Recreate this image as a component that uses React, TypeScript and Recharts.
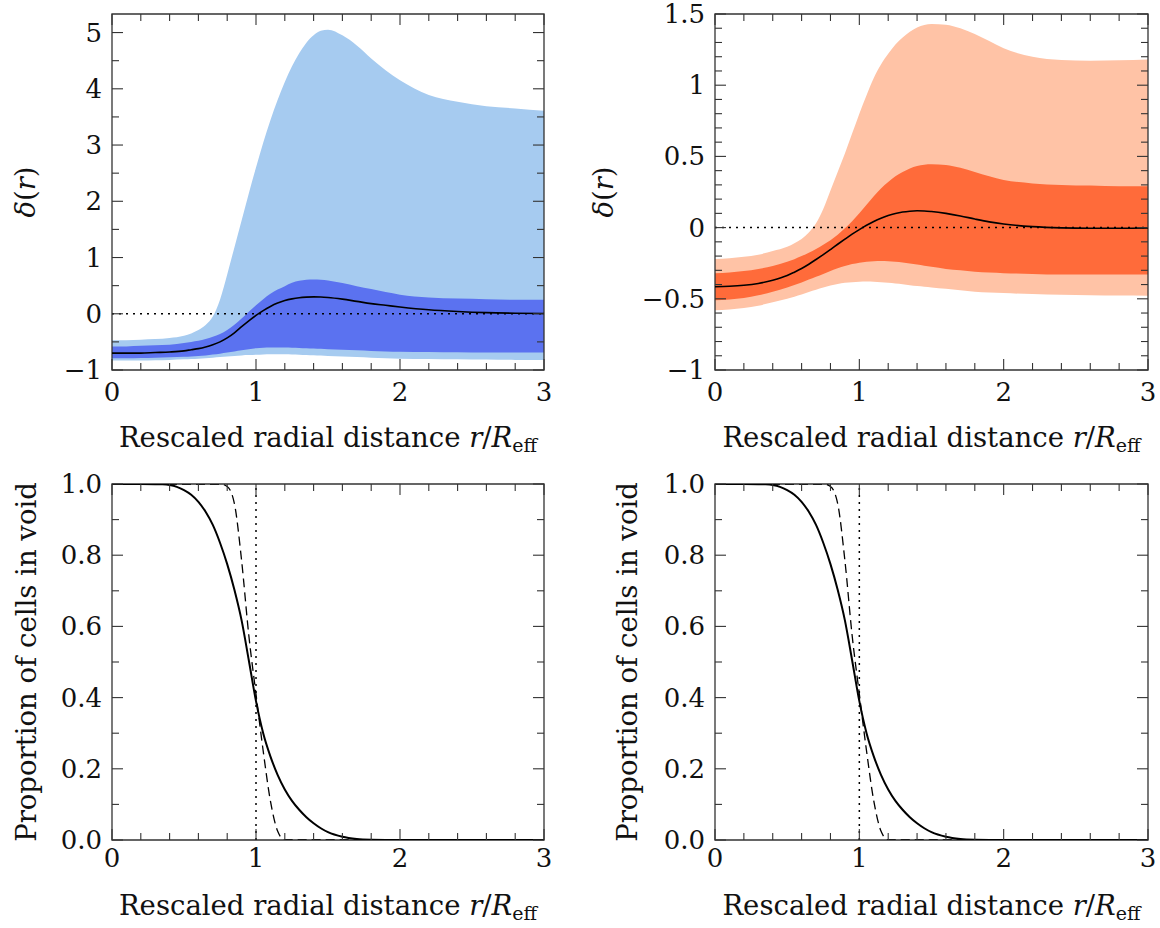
import React from "react";
import { ComposedChart, Area, Line, XAxis, YAxis, ReferenceLine, ReferenceArea } from "recharts";

// ---- data ----

// radial grid shared by the two delta(r) panels
const radius = [0, 0.1, 0.2, 0.3, 0.4, 0.5, 0.55, 0.6, 0.65, 0.7, 0.75, 0.8, 0.85, 0.9, 0.95, 1.0, 1.05, 1.1, 1.15, 1.2, 1.25, 1.3, 1.35, 1.4, 1.45, 1.5, 1.6, 1.7, 1.8, 1.9, 2.0, 2.2, 2.4, 2.6, 2.8, 3.0];

// left panel (blue): 2-sigma / 1-sigma bands and mean
const blueOuterHi = [-0.47, -0.47, -0.46, -0.45, -0.43, -0.39, -0.35, -0.29, -0.2, -0.05, 0.25, 0.7, 1.18, 1.66, 2.14, 2.6, 3.04, 3.44, 3.8, 4.12, 4.4, 4.63, 4.82, 4.95, 5.03, 5.05, 4.95, 4.77, 4.54, 4.33, 4.15, 3.89, 3.77, 3.69, 3.65, 3.61];
const blueInnerHi = [-0.58, -0.58, -0.57, -0.56, -0.55, -0.52, -0.5, -0.48, -0.45, -0.41, -0.36, -0.29, -0.195, -0.085, 0.035, 0.15, 0.26, 0.355, 0.43, 0.49, 0.55, 0.585, 0.605, 0.61, 0.605, 0.59, 0.545, 0.49, 0.44, 0.385, 0.34, 0.29, 0.27, 0.26, 0.25, 0.25];
const blueMean = [-0.7, -0.7, -0.7, -0.69, -0.68, -0.66, -0.64, -0.62, -0.59, -0.55, -0.5, -0.43, -0.34, -0.23, -0.125, -0.03, 0.055, 0.13, 0.19, 0.235, 0.265, 0.285, 0.295, 0.3, 0.298, 0.29, 0.26, 0.22, 0.18, 0.15, 0.12, 0.07, 0.04, 0.02, 0.01, 0.005];
const blueInnerLo = [-0.79, -0.79, -0.785, -0.78, -0.775, -0.765, -0.758, -0.75, -0.74, -0.725, -0.71, -0.69, -0.67, -0.65, -0.63, -0.615, -0.605, -0.6, -0.598, -0.6, -0.603, -0.607, -0.612, -0.618, -0.624, -0.63, -0.64, -0.65, -0.66, -0.67, -0.675, -0.68, -0.685, -0.69, -0.69, -0.69];
const blueOuterLo = [-0.83, -0.83, -0.83, -0.825, -0.82, -0.81, -0.805, -0.8, -0.79, -0.78, -0.77, -0.76, -0.75, -0.74, -0.735, -0.73, -0.725, -0.722, -0.72, -0.721, -0.724, -0.728, -0.733, -0.738, -0.744, -0.75, -0.76, -0.77, -0.78, -0.79, -0.8, -0.805, -0.81, -0.815, -0.82, -0.82];

// right panel (orange)
const orangeOuterHi = [-0.22, -0.215, -0.205, -0.19, -0.165, -0.135, -0.11, -0.08, -0.035, 0.03, 0.13, 0.26, 0.39, 0.52, 0.66, 0.8, 0.93, 1.05, 1.145, 1.22, 1.285, 1.335, 1.375, 1.405, 1.422, 1.43, 1.425, 1.4, 1.36, 1.31, 1.26, 1.2, 1.177, 1.172, 1.175, 1.18];
const orangeInnerHi = [-0.32, -0.315, -0.305, -0.29, -0.27, -0.24, -0.222, -0.2, -0.177, -0.15, -0.12, -0.088, -0.05, -0.005, 0.045, 0.1, 0.16, 0.22, 0.275, 0.32, 0.36, 0.39, 0.415, 0.432, 0.442, 0.445, 0.44, 0.42, 0.39, 0.36, 0.335, 0.31, 0.3, 0.295, 0.29, 0.29];
const orangeMean = [-0.415, -0.412, -0.405, -0.392, -0.37, -0.337, -0.313, -0.287, -0.257, -0.224, -0.19, -0.154, -0.117, -0.081, -0.046, -0.014, 0.016, 0.043, 0.066, 0.085, 0.099, 0.109, 0.115, 0.118, 0.117, 0.113, 0.1, 0.082, 0.06, 0.04, 0.025, 0.007, -0.002, -0.005, -0.005, -0.003];
const orangeInnerLo = [-0.51, -0.505, -0.495, -0.475, -0.45, -0.42, -0.403, -0.385, -0.365, -0.345, -0.325, -0.305, -0.286, -0.27, -0.256, -0.246, -0.24, -0.236, -0.235, -0.236, -0.24, -0.245, -0.252, -0.26, -0.268, -0.275, -0.29, -0.3, -0.31, -0.315, -0.32, -0.325, -0.33, -0.33, -0.33, -0.33];
const orangeOuterLo = [-0.58, -0.575, -0.565, -0.548, -0.525, -0.5, -0.485, -0.47, -0.452, -0.436, -0.421, -0.407, -0.396, -0.388, -0.383, -0.38, -0.379, -0.38, -0.383, -0.388, -0.393, -0.398, -0.404, -0.41, -0.415, -0.42, -0.43, -0.44, -0.45, -0.455, -0.46, -0.467, -0.472, -0.475, -0.477, -0.478];

// bottom panels: proportion of cells in void (both panels look identical)
const voidRadius = [0, 0.1, 0.2, 0.3, 0.35, 0.4, 0.45, 0.5, 0.55, 0.6, 0.65, 0.7, 0.75, 0.8, 0.85, 0.9, 0.95, 1.0, 1.05, 1.1, 1.15, 1.2, 1.25, 1.3, 1.35, 1.4, 1.45, 1.5, 1.6, 1.7, 1.8, 2.0, 2.5, 3.0];
const voidSmooth = [1, 1, 1, 0.9995, 0.999, 0.997, 0.992, 0.983, 0.97, 0.95, 0.922, 0.885, 0.835, 0.775, 0.703, 0.617, 0.505, 0.39, 0.3, 0.235, 0.183, 0.142, 0.11, 0.085, 0.064, 0.047, 0.033, 0.022, 0.009, 0.003, 0.001, 0, 0, 0];
const voidSharp = [1, 1, 1, 1, 1, 1, 1, 1, 1, 1, 1, 1, 1, 0.993, 0.945, 0.785, 0.575, 0.41, 0.25, 0.11, 0.025, 0, 0, 0, 0, 0, 0, 0, 0, 0, 0, 0, 0, 0];

// ticks
const xMajor = [0, 1, 2, 3];
const blueYMajor = [-1, 0, 1, 2, 3, 4, 5];
const orangeYMajor = [-1, -0.5, 0, 0.5, 1, 1.5];
const voidYMajor = [0, 0.2, 0.4, 0.6, 0.8, 1.0];

// ---- styling ----
const FONT = '"DejaVu Serif", "Liberation Serif", "Noto Serif", serif';
const INK = "#333";
const TICK_FS = 26;
const TITLE_FS = 27.5;
const textStyle = { fontFamily: FONT };

const blueRows = radius.map((r, i) => ({ r, outer: [blueOuterLo[i], blueOuterHi[i]], inner: [blueInnerLo[i], blueInnerHi[i]], mean: blueMean[i] }));
const orangeRows = radius.map((r, i) => ({ r, outer: [orangeOuterLo[i], orangeOuterHi[i]], inner: [orangeInnerLo[i], orangeInnerHi[i]], mean: orangeMean[i] }));
const voidRows = voidRadius.map((r, i) => ({ r, smooth: voidSmooth[i], sharp: voidSharp[i] }));

const steps = (lo: number, hi: number, step: number) =>
    Array.from({ length: Math.round((hi - lo) / step) + 1 }, (_, i) => +(lo + i * step).toFixed(3));

const isIn = (arr: number[], v: number) => arr.some(m => Math.abs(m - v) < 1e-6);
const minus = (v: number) => (v < 0 ? "\u2212" + Math.abs(v) : String(v));

function makeXTick(plotH: number, labelDy: number) {
    return (props: any) => {
        const { x, y, payload } = props;
        const v = payload.value;
        const major = isIn(xMajor, v);
        const len = major ? 11 : 7;
        return (
            <g>
                <line x1={x} x2={x} y1={y} y2={y - len} stroke={INK} strokeWidth={1.1} />
                <line x1={x} x2={x} y1={y - plotH} y2={y - plotH + len} stroke={INK} strokeWidth={1.1} />
                {major && (
                    <text x={x} y={y + labelDy} textAnchor="middle" dominantBaseline="central" style={textStyle} fontSize={TICK_FS} fill="#111">
                        {v}
                    </text>
                )}
            </g>
        );
    };
}

function makeYTick(plotW: number, major: number[], fmt: (v: number) => string) {
    return (props: any) => {
        const { x, y, payload } = props;
        const v = payload.value;
        const isMajor = isIn(major, v);
        const len = isMajor ? 11 : 7;
        return (
            <g>
                <line x1={x} x2={x + len} y1={y} y2={y} stroke={INK} strokeWidth={1.1} />
                <line x1={x + plotW - len} x2={x + plotW} y1={y} y2={y} stroke={INK} strokeWidth={1.1} />
                {isMajor && (
                    <text x={x - 10} y={y} textAnchor="end" dominantBaseline="central" style={textStyle} fontSize={TICK_FS} fill="#111">
                        {fmt(v)}
                    </text>
                )}
            </g>
        );
    };
}

const xTitle = (dy: number) => (p: any) => {
    const vb = p.viewBox;
    return (
        <text x={vb.x + vb.width / 2} y={vb.y + dy} textAnchor="middle" style={textStyle} fontSize={TITLE_FS} fill="#111">
            Rescaled radial distance{" "}
            <tspan fontStyle="italic">r</tspan>/<tspan fontStyle="italic">R</tspan>
            <tspan fontSize={19} dy={5}>eff</tspan>
        </text>
    );
};

const yTitle = (cx: number, content: React.ReactNode) => (p: any) => {
    const vb = p.viewBox;
    const cy = vb.y + vb.height / 2;
    return (
        <text x={cx} y={cy} transform={`rotate(-90 ${cx} ${cy})`} textAnchor="middle" dominantBaseline="central" style={textStyle} fontSize={TITLE_FS} fill="#111">
            {content}
        </text>
    );
};

const deltaLabel = (
    <>
        <tspan fontStyle="italic">δ</tspan>(<tspan fontStyle="italic">r</tspan>)
    </>
);

interface PanelFrame {
    width: number;
    height: number;
    top: number;
    right: number;
    yWidth: number;
    xHeight: number;
}

function DeltaPanel({ rows, frame, yDomain, yMajor, yStep, light, dark, titleX }: {
    rows: any[]; frame: PanelFrame; yDomain: [number, number]; yMajor: number[]; yStep: number;
    light: string; dark: string; titleX: number;
}) {
    const plotW = frame.width - frame.yWidth - frame.right;
    const plotH = frame.height - frame.top - frame.xHeight;
    return (
        <ComposedChart width={frame.width} height={frame.height} data={rows}
            margin={{ top: frame.top, right: frame.right, bottom: 0, left: 0 }}>
            <Area dataKey="outer" type="monotone" fill={light} fillOpacity={1} stroke="none" isAnimationActive={false} />
            <Area dataKey="inner" type="monotone" fill={dark} fillOpacity={1} stroke="none" isAnimationActive={false} />
            <ReferenceLine y={0} stroke="#000" strokeWidth={1.5} strokeDasharray="2 5" />
            <Line dataKey="mean" type="monotone" stroke="#000" strokeWidth={1.6} dot={false} isAnimationActive={false} />
            <ReferenceArea x1={0} x2={3} y1={yDomain[0]} y2={yDomain[1]} fill="none" stroke={INK} strokeWidth={1.3} />
            <XAxis dataKey="r" type="number" domain={[0, 3]} allowDataOverflow ticks={steps(0, 3, 0.2)} interval={0}
                height={frame.xHeight} tickSize={0} tickMargin={0} tickLine={false} axisLine={false}
                tick={makeXTick(plotH, 22)} label={{ content: xTitle(77) }} />
            <YAxis type="number" domain={yDomain} allowDataOverflow ticks={steps(yMajor[0], yMajor[yMajor.length - 1], yStep)} interval={0}
                width={frame.yWidth} tickSize={0} tickMargin={0} tickLine={false} axisLine={false}
                tick={makeYTick(plotW, yMajor, minus)} label={{ content: yTitle(titleX, deltaLabel) }} />
        </ComposedChart>
    );
}

function VoidPanel({ frame, titleX }: { frame: PanelFrame; titleX: number }) {
    const plotW = frame.width - frame.yWidth - frame.right;
    const plotH = frame.height - frame.top - frame.xHeight;
    return (
        <ComposedChart width={frame.width} height={frame.height} data={voidRows}
            margin={{ top: frame.top, right: frame.right, bottom: 0, left: 0 }}>
            <ReferenceLine x={1} stroke="#000" strokeWidth={1.5} strokeDasharray="2 5" />
            <Line dataKey="sharp" type="monotone" stroke="#000" strokeWidth={1.3} strokeDasharray="9 5" dot={false} isAnimationActive={false} />
            <Line dataKey="smooth" type="monotone" stroke="#000" strokeWidth={2} dot={false} isAnimationActive={false} />
            <ReferenceArea x1={0} x2={3} y1={0} y2={1} fill="none" stroke={INK} strokeWidth={1.3} />
            <XAxis dataKey="r" type="number" domain={[0, 3]} allowDataOverflow ticks={steps(0, 3, 0.2)} interval={0}
                height={frame.xHeight} tickSize={0} tickMargin={0} tickLine={false} axisLine={false}
                tick={makeXTick(plotH, 18)} label={{ content: xTitle(75) }} />
            <YAxis type="number" domain={[0, 1]} allowDataOverflow ticks={steps(0, 1, 0.1)} interval={0}
                width={frame.yWidth} tickSize={0} tickMargin={0} tickLine={false} axisLine={false}
                tick={makeYTick(plotW, voidYMajor, v => v.toFixed(1))}
                label={{ content: yTitle(titleX, "Proportion of cells in void") }} />
        </ComposedChart>
    );
}

const topLeft: PanelFrame = { width: 580, height: 460, top: 14, right: 36, yWidth: 112, xHeight: 90 };
const topRight: PanelFrame = { width: 580, height: 460, top: 14, right: 12, yWidth: 135, xHeight: 90 };
const botLeft: PanelFrame = { width: 580, height: 468, top: 24, right: 36, yWidth: 112, xHeight: 88 };
const botRight: PanelFrame = { width: 580, height: 468, top: 24, right: 12, yWidth: 135, xHeight: 88 };

export default function App() {
    return (
        <div style={{ position: "absolute", left: 0, top: 0, width: 1160, height: 928, background: "#fff" }}>
            <div style={{ position: "absolute", left: 0, top: 0 }}>
                <DeltaPanel rows={blueRows} frame={topLeft} yDomain={[-1, 5.33]} yMajor={blueYMajor} yStep={0.5}
                    light="#a6cbf0" dark="#5b72f0" titleX={25} />
            </div>
            <div style={{ position: "absolute", left: 580, top: 0 }}>
                <DeltaPanel rows={orangeRows} frame={topRight} yDomain={[-1, 1.5]} yMajor={orangeYMajor} yStep={0.1}
                    light="#ffc3a6" dark="#ff6b3a" titleX={23} />
            </div>
            <div style={{ position: "absolute", left: 0, top: 460 }}>
                <VoidPanel frame={botLeft} titleX={26} />
            </div>
            <div style={{ position: "absolute", left: 580, top: 460 }}>
                <VoidPanel frame={botRight} titleX={47} />
            </div>
        </div>
    );
}
